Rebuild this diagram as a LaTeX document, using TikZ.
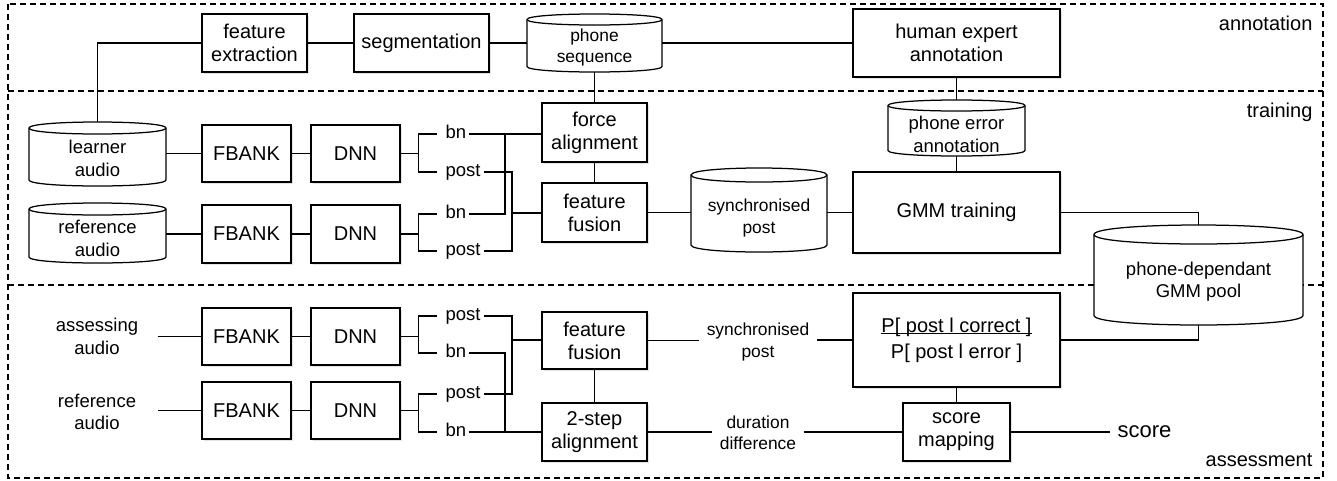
\documentclass[tikz,border=0pt]{standalone}
\usepackage{fontspec}
\setmainfont{Liberation Sans}
\usetikzlibrary{shadows}
\newcommand\fbig{\fontsize{20}{23}\selectfont}
\newcommand\fmid{\fontsize{18.5}{22.5}\selectfont}
\newcommand\fsml{\fontsize{17.4}{21.5}\selectfont}
\newcommand\myul[1]{\setbox0\hbox{#1}\rlap{\rule[-2pt]{\wd0}{0.9pt}}\box0}
\newcommand\bx[6]{\node[blk,minimum width={#3-#2},minimum height={#5-#4}] (#1) at ({(#2+#3)/2},{(#4+#5)/2}) {#6};}
\newcommand\cyl[9]{%
 \node[inner sep=0pt,outer sep=0pt,minimum width={#3-#2},minimum height={#5-#4}] (#1) at ({(#2+#3)/2},{(#4+#5)/2}) {};
 \draw[fill=white] (#2,{#4+#6}) -- (#2,{#5-#6}) .. controls (#2,{#5+#6/3}) and (#3,{#5+#6/3}) .. (#3,{#5-#6}) -- (#3,{#4+#6}) .. controls (#3,{#4-#6/3}) and (#2,{#4-#6/3}) .. cycle;
 \draw (#2,{#4+#6}) .. controls (#2,{#4+7*#6/3}) and (#3,{#4+7*#6/3}) .. (#3,{#4+#6});
 \node[align=center,inner sep=0pt,font=#8] (#1-t) at ({(#2+#3)/2},#7) {#9};}
\begin{document}
\begin{tikzpicture}[x=1pt,y=-1pt,line width=1.25pt,
 blk/.style={draw,fill=white,inner sep=0pt,align=center,font=\fbig,drop shadow={shadow xshift=1.5pt,shadow yshift=-1.5pt,opacity=0.22}},
 zone/.style={draw,dash pattern=on 6pt off 4pt},
 zlbl/.style={anchor=east,inner sep=0pt,font=\fbig},
 lbl/.style={anchor=west,inner xsep=2.5pt,inner ysep=0pt,font=\fmid,text height=13pt,text depth=4pt},
 txt/.style={align=center,inner sep=0pt}]
\useasboundingbox (0,0) rectangle (1337,480);
\fill[white] (0,0) rectangle (1337,480);
% zones
\draw[zone] (8,4) rectangle (1323,478);
\draw[zone] (8,91) -- (1323,91);
\draw[zone] (8,285) -- (1323,285);
\node[zlbl] (zann) at (1313,23) {annotation};
\node[zlbl] (ztr) at (1313,112) {training};
\node[zlbl] (zas) at (1313,460) {assessment};
% boxes
\bx{fe}{202}{307}{14}{72}{feature\\extraction}
\bx{seg}{354}{489}{14}{72}{segmentation}
\bx{hea}{853}{1060}{9}{77}{human expert\\annotation}
\bx{fa}{542}{647}{103}{162}{force\\alignment}
\bx{ffa}{542}{647}{183}{242}{feature\\fusion}
\bx{gmm}{853}{1060}{172}{253}{GMM training}
\bx{fb1}{202}{291}{125}{182}{FBANK}
\bx{dn1}{311}{400}{125}{182}{DNN}
\bx{fb2}{202}{291}{205}{263}{FBANK}
\bx{dn2}{311}{400}{205}{263}{DNN}
\bx{fb3}{202}{291}{308}{365}{FBANK}
\bx{dn3}{311}{400}{308}{365}{DNN}
\bx{fb4}{202}{291}{382}{439}{FBANK}
\bx{dn4}{311}{400}{382}{439}{DNN}
\bx{ffb}{542}{647}{312}{369}{feature\\fusion}
\bx{tsa}{542}{647}{403}{461}{2-step\\alignment}
\bx{pb}{853}{1060}{293}{387}{\myul{P[ post l correct ]}\\[3pt]P[ post l error ]}
\bx{sm}{903}{1010}{403}{461}{score\\mapping}
% cylinders
\cyl{ps}{527}{662}{14}{72}{5.5}{47.5}{\fsml}{phone\\sequence}
\cyl{la}{29}{166}{122}{186}{6}{158.5}{\fmid}{learner\\audio}
\cyl{ra}{29}{166}{203}{263}{6}{238.5}{\fmid}{reference\\audio}
\cyl{pe}{888}{1025}{100}{156}{5.5}{134.5}{\fmid}{phone error\\annotation}
\cyl{sp}{691}{827}{168}{252}{7}{218}{\fsml}{synchronised\\post}
\cyl{gp}{1094}{1303}{225}{325}{9.5}{281.5}{\fmid}{phone-dependant\\GMM pool}
% free texts
\node[txt,font=\fmid,minimum width=120] (aa) at (97,336.5) {assessing\\audio};
\node[txt,font=\fmid,minimum width=120] (rb) at (97,412) {reference\\audio};
\node[txt,font=\fsml,inner xsep=7pt] (sl) at (758,342) {synchronised\\post};
\node[txt,font=\fsml,inner xsep=7pt] (dd) at (758,433) {duration\\difference};
\node[txt,font=\fontsize{22}{26}\selectfont,inner xsep=7pt] (sc) at (1144.5,432) {score};
% bn / post labels
\node[lbl] (bn1) at (442.5,134) {bn};
\node[lbl] (po1) at (442.5,172) {post};
\node[lbl] (bn2) at (442.5,214) {bn};
\node[lbl] (po2) at (442.5,251) {post};
\node[lbl] (po3) at (442.5,316) {post};
\node[lbl] (bn3) at (442.5,353) {bn};
\node[lbl] (po4) at (442.5,394) {post};
\node[lbl] (bn4) at (442.5,432) {bn};
% annotation row
\draw (fe.east) -- (seg.west);
\draw (seg.east) -- (ps.west);
\draw (ps.east) -- (hea.west);
\draw (fe.west) -| (la.north);
\draw (ps.south) -- (fa.north);
\draw (fa.south) -- (ffa.north);
\draw (hea.south) -- (pe.north);
\draw (pe.south) -- (gmm.north);
% training chain
\draw (la.east |- fb1.west) -- (fb1.west);
\draw (ra.east |- fb2.west) -- (fb2.west);
\draw (fb1.east) -- (dn1.west);
\draw (fb2.east) -- (dn2.west);
\draw (aa.east |- fb3.west) -- (fb3.west);
\draw (rb.east |- fb4.west) -- (fb4.west);
\draw (fb3.east) -- (dn3.west);
\draw (fb4.east) -- (dn4.west);
% forks
\draw (dn1.east) -- ++(18,0) coordinate (k1);
\draw[shorten >=5.5pt] (k1) |- (bn1.west);
\draw[shorten >=5.5pt] (k1) |- (po1.west);
\draw (dn2.east) -- ++(18,0) coordinate (k2);
\draw[shorten >=5.5pt] (k2) |- (bn2.west);
\draw[shorten >=5.5pt] (k2) |- (po2.west);
\draw (dn3.east) -- ++(18,0) coordinate (k3);
\draw[shorten >=5.5pt] (k3) |- (po3.west);
\draw[shorten >=5.5pt] (k3) |- (bn3.west);
\draw (dn4.east) -- ++(18,0) coordinate (k4);
\draw[shorten >=5.5pt] (k4) |- (po4.west);
\draw[shorten >=5.5pt] (k4) |- (bn4.west);
% training junctions
\coordinate (j1) at (505,134);
\coordinate (j2) at (512,213);
\draw (bn1.east) -- (bn1.east -| fa.west);
\draw (bn2.east) -| (j1);
\draw (po1.east) -| (j2) |- (po2.east);
\draw (j2) -- (j2 -| ffa.west);
% assessment junctions
\coordinate (j3) at (512,340);
\coordinate (j4) at (505,432);
\draw (po3.east) -| (j3) |- (po4.east);
\draw (j3) -- (j3 -| ffb.west);
\draw (bn3.east) -| (j4);
\draw (bn4.east) -- (bn4.east -| tsa.west);
\draw (ffb.south) -- (tsa.north);
% right side
\draw (ffa.east) -- (ffa.east -| sp.west);
\draw (sp.east |- gmm.west) -- (gmm.west);
\draw (gmm.east) -| (gp.north);
\draw (pb.east) -| (gp.south);
\draw (ffb.east) -- (ffb.east -| sl.west);
\draw (sl.east |- pb.west) -- (pb.west);
\draw (tsa.east) -- (tsa.east -| dd.west);
\draw (dd.east |- sm.west) -- (sm.west);
\draw (pb.south) -- (sm.north);
\draw (sm.east) -- (sm.east -| sc.west);
\end{tikzpicture}
\end{document}
